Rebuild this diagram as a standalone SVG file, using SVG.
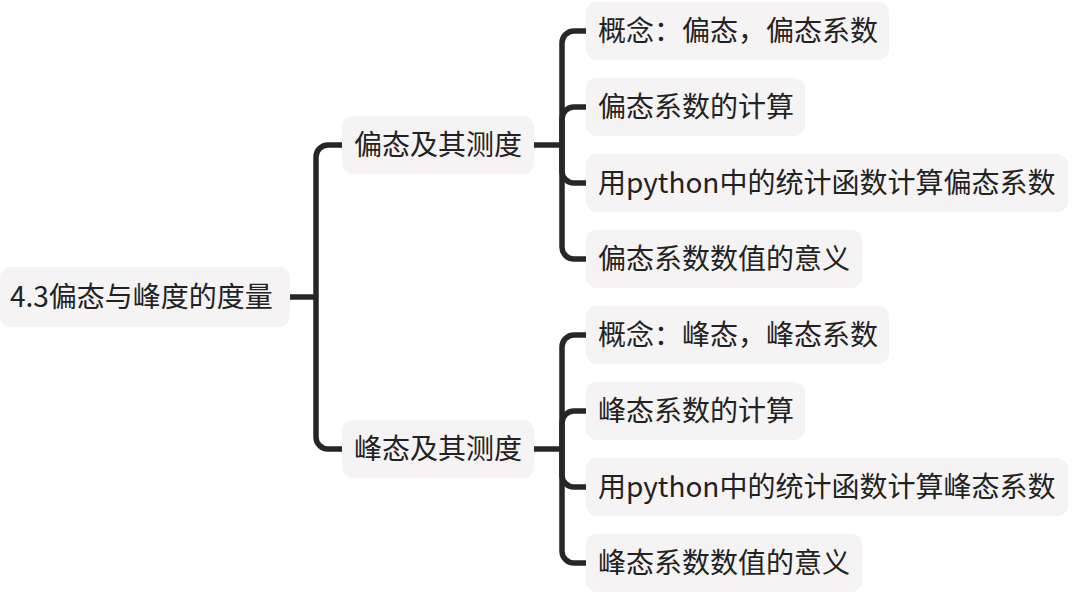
<svg xmlns="http://www.w3.org/2000/svg" width="1090" height="598" viewBox="0 0 1090 598">
<style>
.box{fill:#f5f3f4;}
.t{font-family:"Noto Sans CJK SC","Noto Sans",sans-serif;font-size:28px;font-weight:400;fill:#222222;}
.c{fill:none;stroke:#262626;stroke-width:5.5;stroke-linejoin:round;}
</style>
<rect width="1090" height="598" fill="#ffffff"/>
<g id="connectors" class="c">
<path d="M290,297 H316"/>
<path d="M316,297 V157 A12,12 0 0 1 328,145 H342"/>
<path d="M316,297 V437 A12,12 0 0 0 328,449 H342"/>
<path d="M534,145 H562"/>
<path d="M562,145 V43 A12,12 0 0 1 574,31 H586"/>
<path d="M562,145 V119 A12,12 0 0 1 574,107 H586"/>
<path d="M562,145 V171 A12,12 0 0 0 574,183 H586"/>
<path d="M562,145 V247 A12,12 0 0 0 574,259 H586"/>
<path d="M534,449 H562"/>
<path d="M562,449 V347 A12,12 0 0 1 574,335 H586"/>
<path d="M562,449 V423 A12,12 0 0 1 574,411 H586"/>
<path d="M562,449 V475 A12,12 0 0 0 574,487 H586"/>
<path d="M562,449 V551 A12,12 0 0 0 574,563 H586"/>
</g>
<g id="root"><rect class="box" x="0" y="267" width="290" height="60" rx="11"/><text class="t" x="10" y="307">4.3偏态与峰度的度量</text></g>
<g id="skew"><rect class="box" x="342" y="116" width="192" height="58" rx="11"/><text class="t" x="354" y="155">偏态及其测度</text></g>
<g id="kurt"><rect class="box" x="342" y="420" width="192" height="58" rx="11"/><text class="t" x="354" y="459">峰态及其测度</text></g>
<g id="s1"><rect class="box" x="586" y="2" width="303" height="58" rx="11"/><text class="t" x="598" y="41">概念：偏态，偏态系数</text></g>
<g id="s2"><rect class="box" x="586" y="78" width="219" height="58" rx="11"/><text class="t" x="598" y="117">偏态系数的计算</text></g>
<g id="s3"><rect class="box" x="586" y="154" width="482" height="58" rx="11"/><text class="t" x="598" y="193">用python中的统计函数计算偏态系数</text></g>
<g id="s4"><rect class="box" x="586" y="230" width="276" height="58" rx="11"/><text class="t" x="598" y="269">偏态系数数值的意义</text></g>
<g id="k1"><rect class="box" x="586" y="306" width="303" height="58" rx="11"/><text class="t" x="598" y="345">概念：峰态，峰态系数</text></g>
<g id="k2"><rect class="box" x="586" y="382" width="219" height="58" rx="11"/><text class="t" x="598" y="421">峰态系数的计算</text></g>
<g id="k3"><rect class="box" x="586" y="458" width="482" height="58" rx="11"/><text class="t" x="598" y="497">用python中的统计函数计算峰态系数</text></g>
<g id="k4"><rect class="box" x="586" y="534" width="276" height="58" rx="11"/><text class="t" x="598" y="573">峰态系数数值的意义</text></g>
</svg>
